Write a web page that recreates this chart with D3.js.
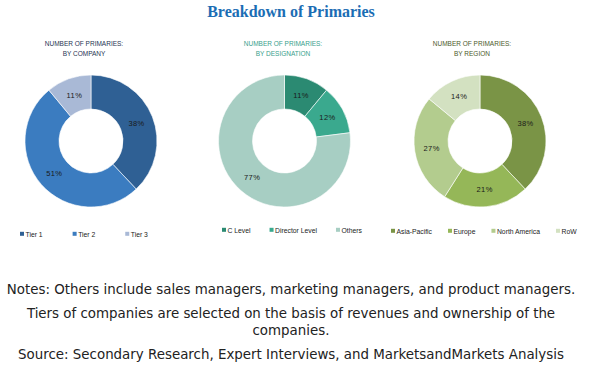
<!DOCTYPE html>
<html>
<head>
<meta charset="utf-8">
<script src="https://cdn.jsdelivr.net/npm/d3@7"></script>
<style>
  body { margin: 0; background: #fff; }
  svg { display: block; }
</style>
</head>
<body>
<div id="chart"></div>
<script>
var companyLabels = ['Tier 1', 'Tier 2', 'Tier 3'],
    companyValues = [38, 51, 11],
    companyColors = ['#2f6094', '#3b7cc0', '#a9b9d6'];

var designationLabels = ['C Level', 'Director Level', 'Others'],
    designationValues = [11, 12, 77],
    designationColors = ['#2b8a72', '#3aa98e', '#a7cec3'];

var regionLabels = ['Asia-Pacific', 'Europe', 'North America', 'RoW'],
    regionValues = [38, 21, 27, 14],
    regionColors = ['#7a9446', '#95b758', '#b3cc8e', '#d3e1c1'];

var notes = [
    'Notes: Others include sales managers, marketing managers, and product managers.',
    'Tiers of companies are selected on the basis of revenues and ownership of the',
    'companies.',
    'Source: Secondary Research, Expert Interviews, and MarketsandMarkets Analysis'
];

var width = 591,
    height = 370,
    outerR = 66,
    innerR = 32;

var svg = d3.select('#chart').append('svg')
    .attr('width', width)
    .attr('height', height);

svg.append('text')
    .attr('x', 291)
    .attr('y', 17)
    .attr('text-anchor', 'middle')
    .style('font-family', '"Liberation Serif", serif')
    .style('font-weight', 'bold')
    .style('font-size', '16px')
    .style('fill', '#1b6db4')
    .text('Breakdown of Primaries');

var donuts = [
    { sub: 'BY COMPANY', subColor: '#1f3552', subX: 84, cx: 91, labels: companyLabels, values: companyValues, colors: companyColors, legX: 20, legY: 234, gap: 30 },
    { sub: 'BY DESIGNATION', subColor: '#38a08c', subX: 283, cx: 284.5, labels: designationLabels, values: designationValues, colors: designationColors, legX: 222, legY: 230, gap: 19 },
    { sub: 'BY REGION', subColor: '#4d5a2a', subX: 472, cx: 480, labels: regionLabels, values: regionValues, colors: regionColors, legX: 391, legY: 231, gap: 16 }
];

var pie = d3.pie().sort(null).value(function(d) { return d; });
var arc = d3.arc().innerRadius(innerR).outerRadius(outerR);
var labelArc = d3.arc().innerRadius(49).outerRadius(49);

donuts.forEach(function(c) {
    var sub = svg.append('text')
        .attr('x', c.subX)
        .attr('text-anchor', 'middle')
        .style('font-family', '"Liberation Sans", Arial, sans-serif')
        .style('font-size', '6.5px')
        .style('fill', c.subColor);
    sub.append('tspan').attr('x', c.subX).attr('y', 46).text('NUMBER OF PRIMARIES:');
    sub.append('tspan').attr('x', c.subX).attr('y', 55.5).text(c.sub);

    var color = d3.scaleOrdinal().domain(c.labels).range(c.colors);

    var g = svg.append('g')
        .attr('transform', 'translate(' + c.cx + ',141)');

    var slices = g.selectAll('g.slice')
        .data(pie(c.values))
        .enter().append('g')
        .attr('class', 'slice');

    slices.append('path')
        .attr('d', arc)
        .style('fill', function(d, i) { return color(c.labels[i]); })
        .style('stroke', '#fff')
        .style('stroke-width', 0.6);

    slices.append('text')
        .attr('transform', function(d) { return 'translate(' + labelArc.centroid(d) + ')'; })
        .attr('dy', '0.35em')
        .attr('text-anchor', 'middle')
        .style('font-family', '"Liberation Sans", Arial, sans-serif')
        .style('font-size', '7.5px')
        .style('letter-spacing', '0.4px')
        .style('fill', '#1a1a1a')
        .text(function(d) { return d.data + '%'; });

    // legend, laid out one item after another
    var leg = svg.append('g')
        .attr('transform', 'translate(' + c.legX + ',' + c.legY + ')');
    var x = 0;
    c.labels.forEach(function(name) {
        var item = leg.append('g').attr('transform', 'translate(' + x + ',0)');
        item.append('rect')
            .attr('x', 0)
            .attr('y', -2.2)
            .attr('width', 4)
            .attr('height', 4)
            .style('fill', color(name));
        var t = item.append('text')
            .attr('x', 5.5)
            .attr('y', 2.5)
            .style('font-family', '"Liberation Sans", Arial, sans-serif')
            .style('font-size', '6.8px')
            .style('fill', '#222')
            .text(name);
        x += 5.5 + t.node().getComputedTextLength() + c.gap;
    });
});

var noteY = [294, 318, 335, 359];
svg.selectAll('text.note')
    .data(notes)
    .enter().append('text')
    .attr('class', 'note')
    .attr('x', 291)
    .attr('y', function(d, i) { return noteY[i]; })
    .attr('text-anchor', 'middle')
    .style('font-family', '"DejaVu Sans", Verdana, sans-serif')
    .style('font-size', '13.4px')
    .style('fill', '#222')
    .text(function(d) { return d; });
</script>
</body>
</html>
